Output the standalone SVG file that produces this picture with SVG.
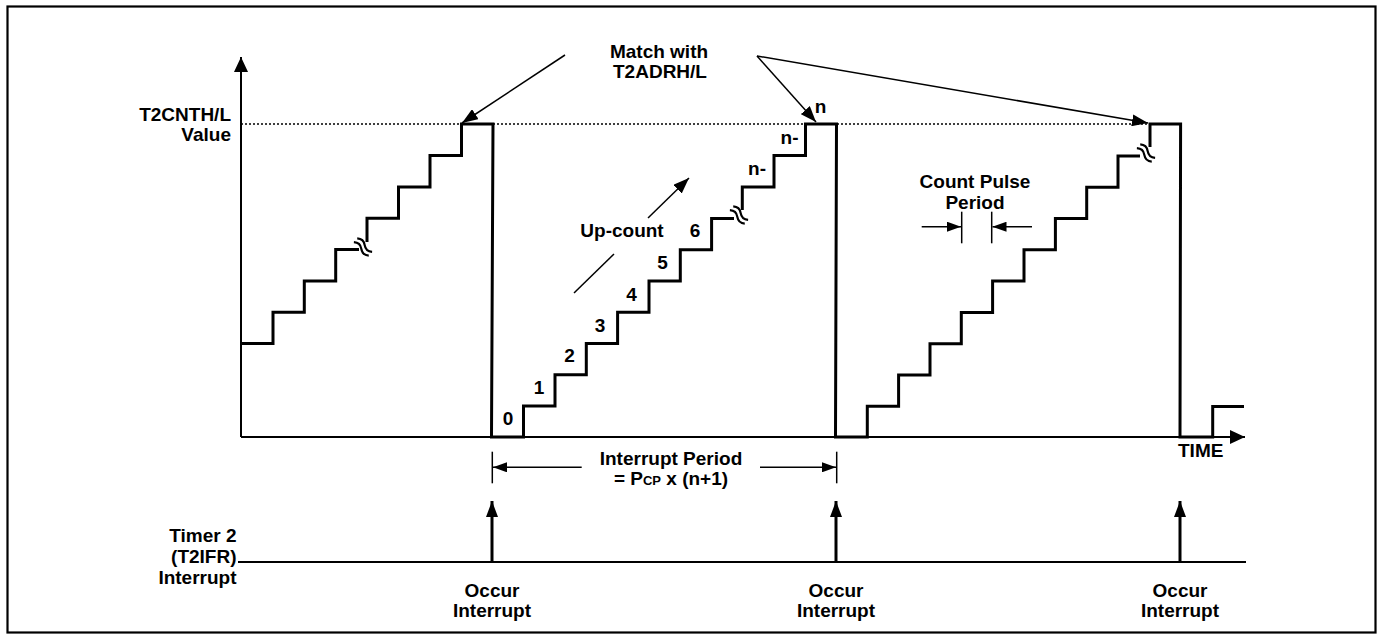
<svg xmlns="http://www.w3.org/2000/svg" width="1383" height="639" viewBox="0 0 1383 639">
<style>
.t{font-family:"Liberation Sans",Arial,Helvetica,sans-serif;font-weight:bold;font-size:19px;fill:#000}
.m{text-anchor:middle}
.e{text-anchor:end}
.thin{stroke:#000;stroke-width:1.5;fill:none}
.ax{stroke:#000;stroke-width:2;fill:none}
.wave{stroke:#000;stroke-width:3;fill:none;stroke-linejoin:miter}
.brk{stroke:#000;stroke-width:2.2;fill:none}
.irq{stroke:#000;stroke-width:3;fill:none}
</style>
<defs>
<marker id="big" markerUnits="userSpaceOnUse" markerWidth="16" markerHeight="14" refX="15" refY="7" orient="auto"><path d="M0,0 L15,7 L0,14 z" fill="#000"/></marker>
<marker id="mid" markerUnits="userSpaceOnUse" markerWidth="17" markerHeight="12" refX="16" refY="6" orient="auto"><path d="M0,0 L16,6 L0,12 z" fill="#000"/></marker>
<marker id="sm" markerUnits="userSpaceOnUse" markerWidth="14" markerHeight="10" refX="14" refY="5" orient="auto"><path d="M0,0 L14,5 L0,10 z" fill="#000"/></marker>
<g id="brkshape"><path class="brk" d="M-10,-2.5 q5,-4 10,0 t10,0"/><path class="brk" d="M-10,2.5 q5,-4 10,0 t10,0"/></g>
</defs>
<rect x="7.5" y="6.5" width="1368" height="626" fill="#fff" stroke="#000" stroke-width="2.2"/>

<g id="axes">
<line class="ax" x1="241" y1="437" x2="241" y2="57" marker-end="url(#big)"/>
<line class="ax" x1="241" y1="437" x2="1245" y2="437" marker-end="url(#big)"/>
<line x1="241" y1="124" x2="1148" y2="124" stroke="#000" stroke-width="1.5" stroke-dasharray="2,2"/>
<text class="t e" x="231" y="121">T2CNTH/L</text>
<text class="t e" x="231" y="140.5">Value</text>
<text class="t" x="1178" y="457">TIME</text>
</g>

<g id="counter">
<path class="wave" d="M241,343.5 H273 V312.3 H304.3 V281 H335.7 V249.5 H359 M367,242 V218.3 H398.5 V187 H430 V155.5 H461.5 V124 H493 L491.5,437 H523.5 V406 H555 V374.8 H586.3 V343.5 H617.6 V312.3 H649 V281 H680.3 V249.7 H711.6 V218.4 H734 M742.3,210 V187 H774 V155.6 H805.5 V124 H836.5 L835.5,437 H867.3 V406.3 H898.6 V375 H930 V343.7 H961.3 V312.4 H992.6 V281 H1024 V249.8 H1055.4 V218.5 H1086.7 V187.2 H1118 V156 H1140 M1150,147 V124 H1180.6 L1180,437 H1212.7 V406.5 H1244"/>
<use href="#brkshape" transform="translate(363,247) rotate(42)"/>
<use href="#brkshape" transform="translate(739,215) rotate(42)"/>
<use href="#brkshape" transform="translate(1146,153) rotate(42)"/>
</g>

<g id="step-labels">
<text class="t m" x="508" y="425">0</text>
<text class="t m" x="539" y="393.5">1</text>
<text class="t m" x="569.5" y="362">2</text>
<text class="t m" x="600" y="331.5">3</text>
<text class="t m" x="631.5" y="300.5">4</text>
<text class="t m" x="662.5" y="268.5">5</text>
<text class="t m" x="695" y="237">6</text>
<text class="t m" x="757" y="175">n-</text>
<text class="t m" x="789.5" y="143.5">n-</text>
<text class="t m" x="820.5" y="112.5">n</text>
</g>

<g id="match-label">
<text class="t m" x="659" y="58">Match with</text>
<text class="t m" x="660" y="78">T2ADRH/L</text>
</g>

<g id="upcount">
<text class="t m" x="622" y="237">Up-count</text>
</g>

<g id="count-pulse">
<text class="t m" x="975" y="188">Count Pulse</text>
<text class="t m" x="975" y="208.5">Period</text>
</g>

<g id="interrupt-period">
<text class="t m" x="671" y="465">Interrupt Period</text>
<text class="t m" x="671" y="485">= P<tspan font-size="13">CP</tspan> x (n+1)</text>
</g>

<g id="timer-label">
<text class="t e" x="236.5" y="541.5">Timer 2</text>
<text class="t e" x="236.5" y="563">(T2IFR)</text>
<text class="t e" x="236.5" y="584">Interrupt</text>
</g>

<g id="occur1"><text class="t m" x="492" y="596.5">Occur</text><text class="t m" x="492" y="617">Interrupt</text></g>
<g id="occur2"><text class="t m" x="836" y="596.5">Occur</text><text class="t m" x="836" y="617">Interrupt</text></g>
<g id="occur3"><text class="t m" x="1180" y="596.5">Occur</text><text class="t m" x="1180" y="617">Interrupt</text></g>

<g id="connectors">
<line class="thin" x1="565" y1="55" x2="462" y2="123" marker-end="url(#mid)"/>
<line class="thin" x1="757" y1="56" x2="816" y2="122" marker-end="url(#mid)"/>
<line class="thin" x1="757" y1="56" x2="1148" y2="123" marker-end="url(#mid)"/>
<line class="thin" x1="648" y1="218" x2="689" y2="178" marker-end="url(#mid)"/>
<line class="thin" x1="574" y1="293" x2="614" y2="254"/>
<line class="thin" x1="961.7" y1="211.7" x2="961.7" y2="243.3"/>
<line class="thin" x1="991.7" y1="211.7" x2="991.7" y2="243.3"/>
<line class="thin" x1="921.7" y1="226.7" x2="961" y2="226.7" marker-end="url(#sm)"/>
<line class="thin" x1="1032" y1="226.7" x2="992.5" y2="226.7" marker-end="url(#sm)"/>
<line class="thin" x1="492.3" y1="451.7" x2="492.3" y2="483.3"/>
<line class="thin" x1="836.7" y1="451.7" x2="836.7" y2="483.3"/>
<line class="thin" x1="581.7" y1="467.3" x2="493" y2="467.3" marker-end="url(#sm)"/>
<line class="thin" x1="760" y1="467.3" x2="836" y2="467.3" marker-end="url(#sm)"/>
<line class="ax" x1="238" y1="562" x2="1246" y2="562"/>
<line class="irq" x1="492" y1="562" x2="492" y2="501" marker-end="url(#mid)"/>
<line class="irq" x1="836" y1="562" x2="836" y2="501" marker-end="url(#mid)"/>
<line class="irq" x1="1180" y1="562" x2="1180" y2="501" marker-end="url(#mid)"/>
</g>
</svg>
